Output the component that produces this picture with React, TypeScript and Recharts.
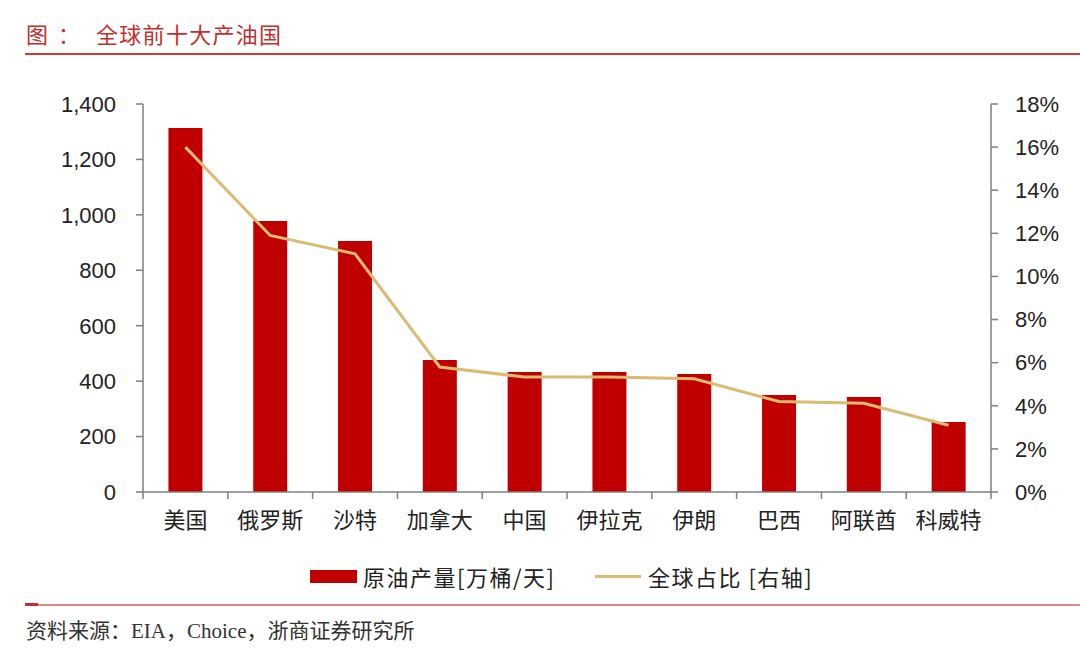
import React from 'react';
import { ComposedChart, Bar, Line, XAxis, YAxis } from 'recharts';

const countries = ['美国', '俄罗斯', '沙特', '加拿大', '中国', '伊拉克', '伊朗', '巴西', '阿联酋', '科威特'];
const production = [1313, 978, 906, 476, 433, 433, 426, 350, 343, 253];
const share = [16.0, 11.9, 11.05, 5.8, 5.33, 5.33, 5.25, 4.2, 4.12, 3.1];
const leftTicks = [0, 200, 400, 600, 800, 1000, 1200, 1400];
const rightTicks = [0, 2, 4, 6, 8, 10, 12, 14, 16, 18];

const data = countries.map((c, i) => ({ name: c, production: production[i], share: share[i] }));

const BAR = '#C00000';
const LINE = '#D9BC72';
const AXIS = '#7F7F7F';
const CJK = '"Noto Sans CJK SC", "Liberation Sans", sans-serif';
const LAT = '"Liberation Sans", Arial, sans-serif';
const TICK_SIZE = 6;
const TICK_MARGIN = 14;

const CategoryTick = (props: any) => {
  const { x, y, payload, index, visibleTicksCount } = props;
  const half = payload.offset || 0;
  const axisY = y - TICK_SIZE - TICK_MARGIN;
  return (
    <g>
      <line x1={x - half} x2={x - half} y1={axisY} y2={axisY + 7} stroke={AXIS} strokeWidth={1.5} />
      {index === visibleTicksCount - 1 && (
        <line x1={x + half} x2={x + half} y1={axisY} y2={axisY + 7} stroke={AXIS} strokeWidth={1.5} />
      )}
      <text x={x} y={y} dy="0.71em" textAnchor="middle" fontFamily={CJK} fontSize={22} fill="#222">
        {payload.value}
      </text>
    </g>
  );
};

export default function App() {
  return (
    <div style={{ position: 'absolute', left: 0, top: 0, width: 1080, height: 662, background: '#fff', overflow: 'hidden' }}>
      <div style={{ position: 'absolute', left: 26, top: 17, fontFamily: CJK, fontSize: 22, color: '#C0302E', whiteSpace: 'pre' }}>
        <span>图</span>
        <span style={{ position: 'absolute', left: 32 }}>：</span>
        <span style={{ position: 'absolute', left: 70, letterSpacing: 1.3 }}>全球前十大产油国</span>
      </div>
      <div style={{ position: 'absolute', left: 25, top: 53, width: 1055, height: 2, background: '#D0383A' }} />
      <ComposedChart
        width={1080}
        height={662}
        data={data}
        margin={{ top: 104, right: 0, bottom: 120, left: 0 }}
        barCategoryGap="30%"
      >
        <XAxis
          dataKey="name"
          tickLine={false}
          tickSize={TICK_SIZE}
          axisLine={{ stroke: AXIS, strokeWidth: 1.5 }}
          tick={<CategoryTick />}
          tickMargin={TICK_MARGIN}
          interval={0}
          height={50}
        />
        <YAxis
          yAxisId="left"
          domain={[0, 1400]}
          ticks={leftTicks}
          width={143}
          axisLine={{ stroke: AXIS, strokeWidth: 1.5 }}
          tickLine={{ stroke: AXIS, strokeWidth: 1.5 }}
          tickSize={7}
          tickMargin={20}
          tick={{ fontFamily: LAT, fontSize: 22, fill: '#222' }}
          tickFormatter={(v: number) => v.toLocaleString('en-US')}
        />
        <YAxis
          yAxisId="right"
          orientation="right"
          domain={[0, 18]}
          ticks={rightTicks}
          width={89}
          axisLine={{ stroke: AXIS, strokeWidth: 1.5 }}
          tickLine={{ stroke: AXIS, strokeWidth: 1.5 }}
          tickSize={7}
          tickMargin={17}
          tick={{ fontFamily: LAT, fontSize: 22, fill: '#222' }}
          tickFormatter={(v: number) => `${v}%`}
        />
        <Bar yAxisId="left" dataKey="production" name="原油产量[万桶/天]" fill={BAR} isAnimationActive={false} />
        <Line yAxisId="right" dataKey="share" name="全球占比 [右轴]" stroke={LINE} strokeWidth={3} dot={false} type="linear" isAnimationActive={false} />
      </ComposedChart>
      <div style={{ position: 'absolute', left: 0, top: 561, width: 1080, height: 30, fontFamily: CJK, fontSize: 22, color: '#222' }}>
        <div style={{ position: 'absolute', left: 310, top: 9, width: 47, height: 13, background: BAR }} />
        <span style={{ position: 'absolute', left: 363, top: 0, letterSpacing: 1.5, lineHeight: '30px' }}>原油产量[万桶/天]</span>
        <div style={{ position: 'absolute', left: 595, top: 14, width: 46, height: 3, background: LINE }} />
        <span style={{ position: 'absolute', left: 648, top: 0, letterSpacing: 1.5, lineHeight: '30px' }}>全球占比 [右轴]</span>
      </div>
      <div style={{ position: 'absolute', left: 25, top: 604, width: 1055, height: 1.5, background: '#D98A8A' }} />
      <div style={{ position: 'absolute', left: 25, top: 603, width: 13, height: 2.5, background: '#C0302E' }} />
      <div style={{ position: 'absolute', left: 26, top: 614, fontFamily: '"Liberation Serif", "Noto Sans CJK SC", serif', fontSize: 21, color: '#333' }}>
        资料来源：EIA，Choice，浙商证券研究所
      </div>
    </div>
  );
}
